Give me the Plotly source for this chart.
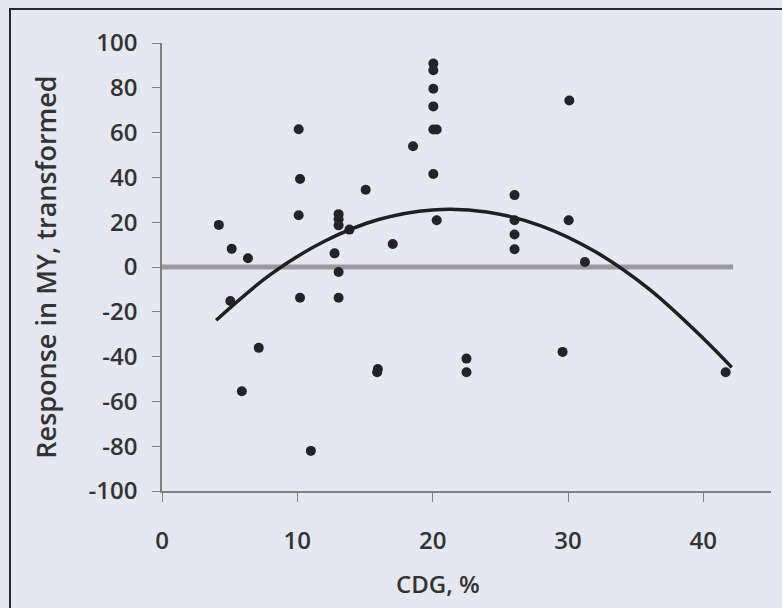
import plotly.graph_objects as go

# Scatter data: CDG (%) and response in MY (transformed)
cdg = [4.2, 5.15, 6.35, 10.1, 10.2, 10.1, 13.05, 13.05, 13.05, 13.85, 12.75, 13.05,
       15.05, 17.05, 18.55, 20.05, 20.05, 20.05, 20.05, 20.05, 20.3, 20.05, 20.3,
       5.05, 10.2, 13.05, 7.15, 5.9, 11.0, 15.95, 15.9, 22.5, 22.5,
       30.1, 26.05, 26.05, 26.05, 26.05, 30.05, 31.25, 29.6, 41.65]
response = [18.8, 8.1, 3.9, 61.5, 39.3, 23.1, 23.6, 21.3, 18.6, 16.7, 6.1, -2.2,
            34.5, 10.3, 53.9, 90.8, 87.8, 79.6, 71.7, 61.4, 61.4, 41.5, 20.9,
            -15.2, -13.7, -13.7, -36.1, -55.5, -82.1, -45.5, -47.0, -40.9, -47.0,
            74.3, 32.1, 20.9, 14.5, 7.9, 20.9, 2.2, -37.9, -47.0]

# Fitted curve
curve_x = [4, 8, 12, 16, 20, 24, 28, 32, 36, 40, 42.1]
curve_y = [-23.8, -3.4, 11.5, 21.2, 25.5, 24.6, 18.4, 6.9, -9.9, -31.9, -44.8]

# Zero reference line
zero_x = [0, 42.2]
zero_y = [0, 0]

x_ticks = [0, 10, 20, 30, 40]
y_ticks = [-100, -80, -60, -40, -20, 0, 20, 40, 60, 80, 100]

W, H = 782, 608
L, R, T, B = 162, 11, 43, 117
pw = W - L - R
ph = H - T - B

fig = go.Figure()
fig.add_trace(go.Scatter(x=zero_x, y=zero_y, mode="lines",
                         line=dict(color="#9a9a9c", width=5), hoverinfo="skip"))
fig.add_trace(go.Scatter(x=cdg, y=response, mode="markers",
                         marker=dict(color="#242428", size=10)))
fig.add_trace(go.Scatter(x=curve_x, y=curve_y, mode="lines",
                         line=dict(color="#202020", width=3.5, shape="spline")))

font = "Open Sans, Noto Sans, sans-serif"
fig.update_layout(
    width=W, height=H,
    margin=dict(l=L, r=R, t=T, b=B, pad=0),
    paper_bgcolor="#e5e8f0", plot_bgcolor="#e5e8f0",
    showlegend=False,
    font=dict(family=font, color="#333336", size=24, weight=600),
    xaxis=dict(range=[0, 45], tickvals=x_ticks, ticktext=[str(v) for v in x_ticks],
               showgrid=False, zeroline=False, showline=True, linecolor="#808080",
               linewidth=1.5, ticks="outside", ticklen=9, tickcolor="#808080",
               tickfont=dict(size=24, weight=600), ticklabelstandoff=18),
    yaxis=dict(range=[-100, 100], tickvals=y_ticks, ticktext=[str(v) for v in y_ticks],
               showgrid=False, zeroline=False, showline=True, linecolor="#808080",
               linewidth=1.5, ticks="outside", ticklen=8, tickcolor="#808080",
               tickfont=dict(size=24, weight=600), ticklabelstandoff=10,
               title=dict(text="Response in MY, transformed", font=dict(size=27, weight=600),
                          standoff=24)),
)

fig.add_annotation(text="CDG, %", xref="paper", yref="paper",
                   x=(438 - L) / pw, y=-(583 - T - ph) / ph,
                   xanchor="center", yanchor="middle", showarrow=False,
                   font=dict(size=24, weight=600, family=font, color="#333336"))

# Scanned page frame
fig.add_shape(type="rect", xref="paper", yref="paper",
              x0=(10 - L) / pw, x1=(W + 20 - L) / pw,
              y0=-(H + 20 - T - ph) / ph, y1=1 + (T - 9) / ph,
              line=dict(color="#2a2a2a", width=2), layer="below")

fig.write_html("out.html")
